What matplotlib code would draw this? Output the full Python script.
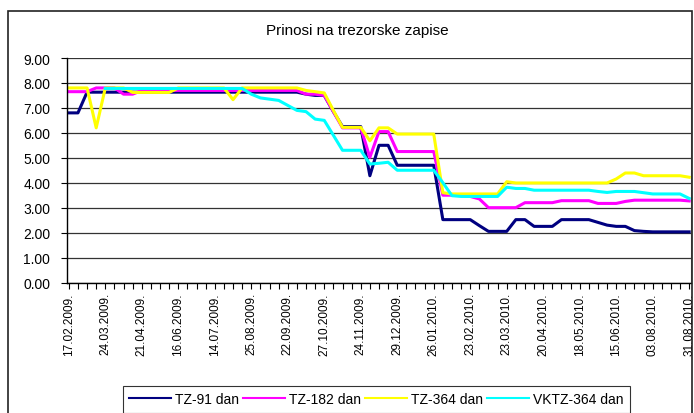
import numpy as np
import matplotlib
matplotlib.use("Agg")
import matplotlib.pyplot as plt
from matplotlib.patches import Rectangle

plt.rcParams['font.family'] = ['Liberation Sans', 'DejaVu Sans']

# 69 weekly auctions, labels shown on every 4th one
tick_labels = ["17.02.2009.", "24.03.2009.", "21.04.2009.", "16.06.2009.",
               "14.07.2009.", "25.08.2009.", "22.09.2009.", "27.10.2009.",
               "24.11.2009.", "29.12.2009.", "26.01.2010.", "23.02.2010.",
               "23.03.2010.", "20.04.2010.", "18.05.2010.", "15.06.2010.",
               "03.08.2010.", "31.08.2010."]
n_points = 69

tz91 = [6.8, 6.8, 7.63, 7.63, 7.63, 7.63, 7.63, 7.63, 7.63, 7.63,
        7.63, 7.63, 7.63, 7.63, 7.63, 7.63, 7.63, 7.63, 7.63, 7.63,
        7.63, 7.63, 7.63, 7.63, 7.63, 7.63, 7.55, 7.5, 7.5, 6.85,
        6.25, 6.25, 6.25, 4.28, 5.5, 5.5, 4.7, 4.7, 4.7, 4.7,
        4.7, 2.52, 2.52, 2.52, 2.52, 2.28, 2.05, 2.05, 2.05, 2.52,
        2.52, 2.25, 2.25, 2.25, 2.52, 2.52, 2.52, 2.52, 2.41, 2.3,
        2.25, 2.25, 2.08, 2.05, 2.03, 2.03, 2.03, 2.03, 2.03]

tz182 = [7.65, 7.65, 7.65, 7.8, 7.8, 7.8, 7.55, 7.55, 7.7, 7.7,
         7.7, 7.7, 7.7, 7.7, 7.7, 7.7, 7.7, 7.7, 7.7, 7.7,
         7.7, 7.7, 7.7, 7.7, 7.7, 7.7, 7.55, 7.55, 7.5, 6.85,
         6.2, 6.2, 6.2, 5.02, 6.05, 6.05, 5.25, 5.25, 5.25, 5.25,
         5.25, 3.5, 3.5, 3.5, 3.45, 3.35, 3.0, 3.0, 3.0, 3.0,
         3.2, 3.2, 3.2, 3.2, 3.28, 3.28, 3.28, 3.28, 3.17, 3.17,
         3.17, 3.25, 3.3, 3.3, 3.3, 3.3, 3.3, 3.3, 3.27]

tz364 = [7.8, 7.8, 7.8, 6.2, 7.8, 7.8, 7.8, 7.62, 7.62, 7.62,
         7.62, 7.62, 7.8, 7.8, 7.8, 7.8, 7.8, 7.8, 7.33, 7.8,
         7.8, 7.8, 7.8, 7.8, 7.8, 7.8, 7.7, 7.65, 7.6, 6.9,
         6.22, 6.22, 6.22, 5.68, 6.2, 6.2, 5.95, 5.95, 5.95, 5.95,
         5.95, 3.6, 3.55, 3.55, 3.55, 3.55, 3.55, 3.55, 4.04, 3.99,
         3.99, 3.99, 3.99, 3.99, 3.99, 3.99, 3.99, 3.99, 3.99, 3.99,
         4.15, 4.39, 4.39, 4.28, 4.28, 4.28, 4.28, 4.28, 4.22]

vktz364 = [np.nan, np.nan, np.nan, np.nan, 7.78, 7.78, 7.78, 7.78, 7.78, 7.78,
           7.78, 7.78, 7.78, 7.78, 7.78, 7.78, 7.78, 7.78, 7.78, 7.78,
           7.55, 7.4, 7.35, 7.3, 7.1, 6.9, 6.85, 6.55, 6.5, 5.9,
           5.3, 5.3, 5.3, 4.75, 4.78, 4.82, 4.5, 4.5, 4.5, 4.5,
           4.5, 4.0, 3.48, 3.45, 3.45, 3.45, 3.45, 3.45, 3.82, 3.77,
           3.77, 3.7, 3.7, 3.7, 3.7, 3.7, 3.7, 3.7, 3.65, 3.61,
           3.65, 3.65, 3.65, 3.6, 3.55, 3.55, 3.55, 3.55, 3.37]

series = [("TZ-91 dan", tz91, "#000080"),
          ("TZ-182 dan", tz182, "#FF00FF"),
          ("TZ-364 dan", tz364, "#FFFF00"),
          ("VKTZ-364 dan", vktz364, "#00FFFF")]

fig = plt.figure(figsize=(6.94, 4.14), dpi=100)
ax = fig.add_axes([67/694, 1 - 283.5/414, (691 - 67)/694, (283.5 - 59)/414])

x = np.arange(n_points)
for name, vals, col in series:
    ax.plot(x, vals, color=col, lw=2.2, label=name, solid_joinstyle='round')

ax.set_xlim(-0.2, n_points - 0.8)
ax.set_ylim(0, 9)
ax.set_yticks(np.arange(0, 10))
ax.set_yticklabels([f"{v:.2f}" for v in range(10)], fontsize=10)
ax.grid(axis='y', color='#333333', lw=0.9)
ax.set_axisbelow(True)

# date labels look condensed in the original
ax.set_xticks(x[::4])
ax.set_xticklabels(tick_labels, rotation=90, fontsize=8.5,
                   family=['Liberation Sans Narrow', 'Liberation Sans'])
ax.set_xticks(x, minor=True)
ax.tick_params(axis='x', which='both', length=4, width=0.8, direction='out', pad=3)
ax.tick_params(axis='y', length=4, width=0.8, pad=8)

ax.spines['top'].set_visible(False)
ax.spines['right'].set_color('#888888')
ax.spines['left'].set_linewidth(1)
ax.spines['bottom'].set_linewidth(1)

fig.text(357.5/694, 1 - 31/414, "Prinosi na trezorske zapise", ha='center', va='center', fontsize=11)

# outer chart border
fig.patches.append(Rectangle((8/694, -0.05), (692 - 8)/694, 1.05 - 12/414, transform=fig.transFigure,
                             fill=False, ec='#222222', lw=1.2))

leg = fig.legend(loc='upper left', bbox_to_anchor=(123/694, 1 - 387/414), ncol=4, fontsize=10,
                 frameon=True, fancybox=False, edgecolor='black', handlelength=3.0,
                 handletextpad=0.3, columnspacing=0.3, borderpad=0.45, borderaxespad=0)
leg.get_frame().set_linewidth(0.8)
for h in leg.get_lines():
    h.set_linewidth(1.5)

fig.savefig("out.png", dpi=100)
